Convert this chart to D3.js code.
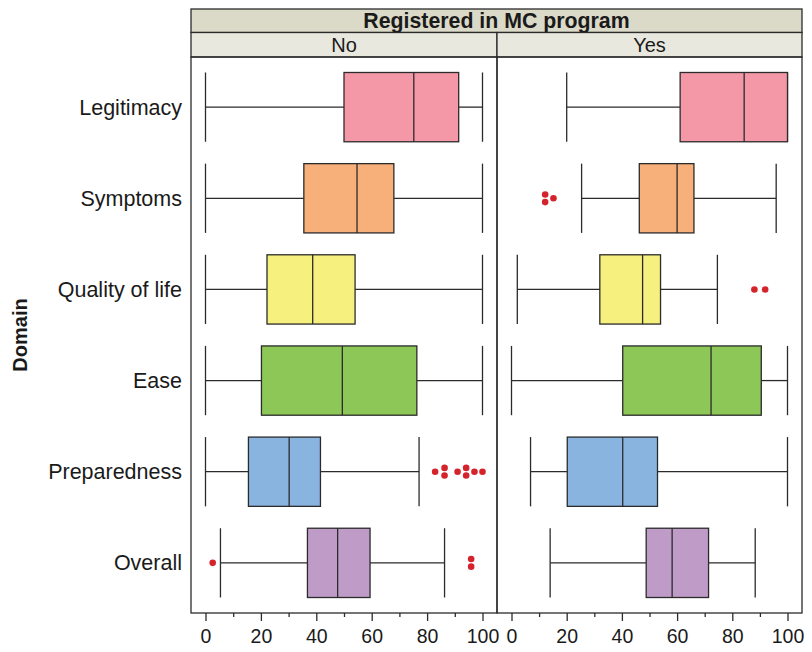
<!DOCTYPE html>
<html>
<head>
<meta charset="utf-8">
<script src="https://cdn.jsdelivr.net/npm/d3@7"></script>
<style>
  html, body { margin: 0; padding: 0; background: #fff; }
  svg { display: block; font-family: "Liberation Sans", Arial, Helvetica, sans-serif; }
</style>
</head>
<body>
<svg id="chart" width="812" height="652"></svg>
<script>
// Categories (top to bottom) and panel groups
const domains = ["Legitimacy", "Symptoms", "Quality of life", "Ease", "Preparedness", "Overall"];
const groups = ["No", "Yes"];
const fills = ["#F498A7", "#F8B07B", "#F6F07E", "#8CC758", "#8AB4E0", "#BF9BC7"];

// Box statistics for "No"
const lowNo  = [0,    0,    0,    0,    0,    5.4];
const q1No   = [50,   35.5, 22.2, 20.2, 15.5, 36.8];
const medNo  = [75.2, 54.7, 38.7, 49.4, 30.2, 47.7];
const q3No   = [91.4, 68,   54,   76.3, 41.5, 59.4];
const highNo = [100,  100,  100,  100,  77.1, 86.3];
const outNo  = [[], [], [], [], [82.9, 86.3, 86.3, 91, 94.1, 94.1, 97.1, 100], [2.6, 95.9, 95.9]];

// Box statistics for "Yes"
const lowYes  = [20,   25.4, 2.1,  0,    6.9,  14];
const q1Yes   = [61.1, 46.3, 32,   40.3, 20.2, 48.8];
const medYes  = [84.3, 60,   47.5, 72.3, 40.3, 58.2];
const q3Yes   = [100,  66.1, 54,   90.5, 52.9, 71.4];
const highYes = [100,  95.9, 74.6, 100,  100,  88.3];
const outYes  = [[], [12.2, 12.2, 15.2], [88, 91.9], [], [], []];

const majorTicks = [0, 20, 40, 60, 80, 100];
const minorTicks = [10, 30, 50, 70, 90];

const stats = {
  No:  { low: lowNo,  q1: q1No,  med: medNo,  q3: q3No,  high: highNo,  out: outNo },
  Yes: { low: lowYes, q1: q1Yes, med: medYes, q3: q3Yes, high: highYes, out: outYes }
};

const svg = d3.select("#chart");
const ink = "#2b2b2b";

// Layout
const plotTop = 57, plotBottom = 613;
const panels = [
  { name: "No",  x0: 191, x1: 497 },
  { name: "Yes", x0: 497, x1: 802 }
];
const stripTop = 9, stripMid = 32.5;

const y = d3.scalePoint().domain(domains).range([plotTop, plotBottom]).padding(0.55);
const boxH = y.step() * 0.76;

// Strips
svg.append("rect").attr("x", 191).attr("y", stripTop).attr("width", 611).attr("height", stripMid - stripTop)
  .attr("fill", "#DBD9C8").attr("stroke", ink).attr("stroke-width", 1.3);
svg.append("text").attr("x", (191 + 802) / 2).attr("y", (stripTop + stripMid) / 2 + 7)
  .attr("text-anchor", "middle").attr("font-weight", "bold").attr("font-size", 21.3).attr("fill", "#1a1a1a")
  .text("Registered in MC program");

panels.forEach(p => {
  svg.append("rect").attr("x", p.x0).attr("y", stripMid).attr("width", p.x1 - p.x0).attr("height", plotTop - stripMid)
    .attr("fill", "#E8E8DE").attr("stroke", ink).attr("stroke-width", 1.3);
  svg.append("text").attr("x", (p.x0 + p.x1) / 2).attr("y", (stripMid + plotTop) / 2 + 7)
    .attr("text-anchor", "middle").attr("font-size", 20).attr("fill", "#1a1a1a").text(p.name);
});

// Panels
panels.forEach(p => {
  const x = d3.scaleLinear().domain([0, 100]).range([p.x0 + 14.5, p.x1 - 14.5]);
  const s = stats[p.name];
  const g = svg.append("g");

  domains.forEach((d, i) => {
    const cy = y(d);
    const top = cy - boxH / 2;
    // whiskers
    g.append("line").attr("x1", x(s.low[i])).attr("x2", x(s.q1[i])).attr("y1", cy).attr("y2", cy)
      .attr("stroke", ink).attr("stroke-width", 1.3);
    g.append("line").attr("x1", x(s.q3[i])).attr("x2", x(s.high[i])).attr("y1", cy).attr("y2", cy)
      .attr("stroke", ink).attr("stroke-width", 1.3);
    [s.low[i], s.high[i]].forEach(v => {
      g.append("line").attr("x1", x(v)).attr("x2", x(v)).attr("y1", top).attr("y2", top + boxH)
        .attr("stroke", ink).attr("stroke-width", 1.3);
    });
    // box
    g.append("rect").attr("x", x(s.q1[i])).attr("y", top)
      .attr("width", x(s.q3[i]) - x(s.q1[i])).attr("height", boxH)
      .attr("fill", fills[i]).attr("stroke", ink).attr("stroke-width", 1.3);
    // median
    g.append("line").attr("x1", x(s.med[i])).attr("x2", x(s.med[i])).attr("y1", top).attr("y2", top + boxH)
      .attr("stroke", ink).attr("stroke-width", 1.3);
    // outliers: repeated values are stacked vertically
    const counts = d3.rollup(s.out[i], v => v.length, v => v);
    counts.forEach((n, v) => {
      d3.range(n).forEach(k => {
        g.append("circle").attr("cx", x(v)).attr("cy", cy + (k - (n - 1) / 2) * 7.6)
          .attr("r", 3.3).attr("fill", "#D5232C");
      });
    });
  });

  // panel border
  svg.append("rect").attr("x", p.x0).attr("y", plotTop).attr("width", p.x1 - p.x0).attr("height", plotBottom - plotTop)
    .attr("fill", "none").attr("stroke", ink).attr("stroke-width", 1.3);

  // axes
  const major = svg.append("g").attr("transform", `translate(0,${plotBottom})`)
    .call(d3.axisBottom(x).tickValues(majorTicks).tickSize(8).tickPadding(8).tickFormat(d3.format("d")));
  major.select(".domain").remove();
  major.selectAll(".tick line").attr("stroke", ink).attr("stroke-width", 1.3);
  major.selectAll(".tick text").attr("font-size", 19.5).attr("fill", "#1a1a1a")
    .attr("font-family", "'Liberation Sans', Arial, sans-serif");
  const minor = svg.append("g").attr("transform", `translate(0,${plotBottom})`)
    .call(d3.axisBottom(x).tickValues(minorTicks).tickSize(4).tickFormat(""));
  minor.select(".domain").remove();
  minor.selectAll(".tick line").attr("stroke", ink).attr("stroke-width", 1.3);
});

// Category labels
svg.append("g").selectAll("text").data(domains).join("text")
  .attr("x", 182).attr("y", d => y(d) + 7.5)
  .attr("text-anchor", "end").attr("font-size", 21.5).attr("fill", "#1a1a1a").text(d => d);

// Axis title
svg.append("text").attr("transform", `translate(27,${(plotTop + plotBottom) / 2}) rotate(-90)`)
  .attr("text-anchor", "middle").attr("font-weight", "bold").attr("font-size", 20).attr("fill", "#1a1a1a")
  .text("Domain");
</script>
</body>
</html>
